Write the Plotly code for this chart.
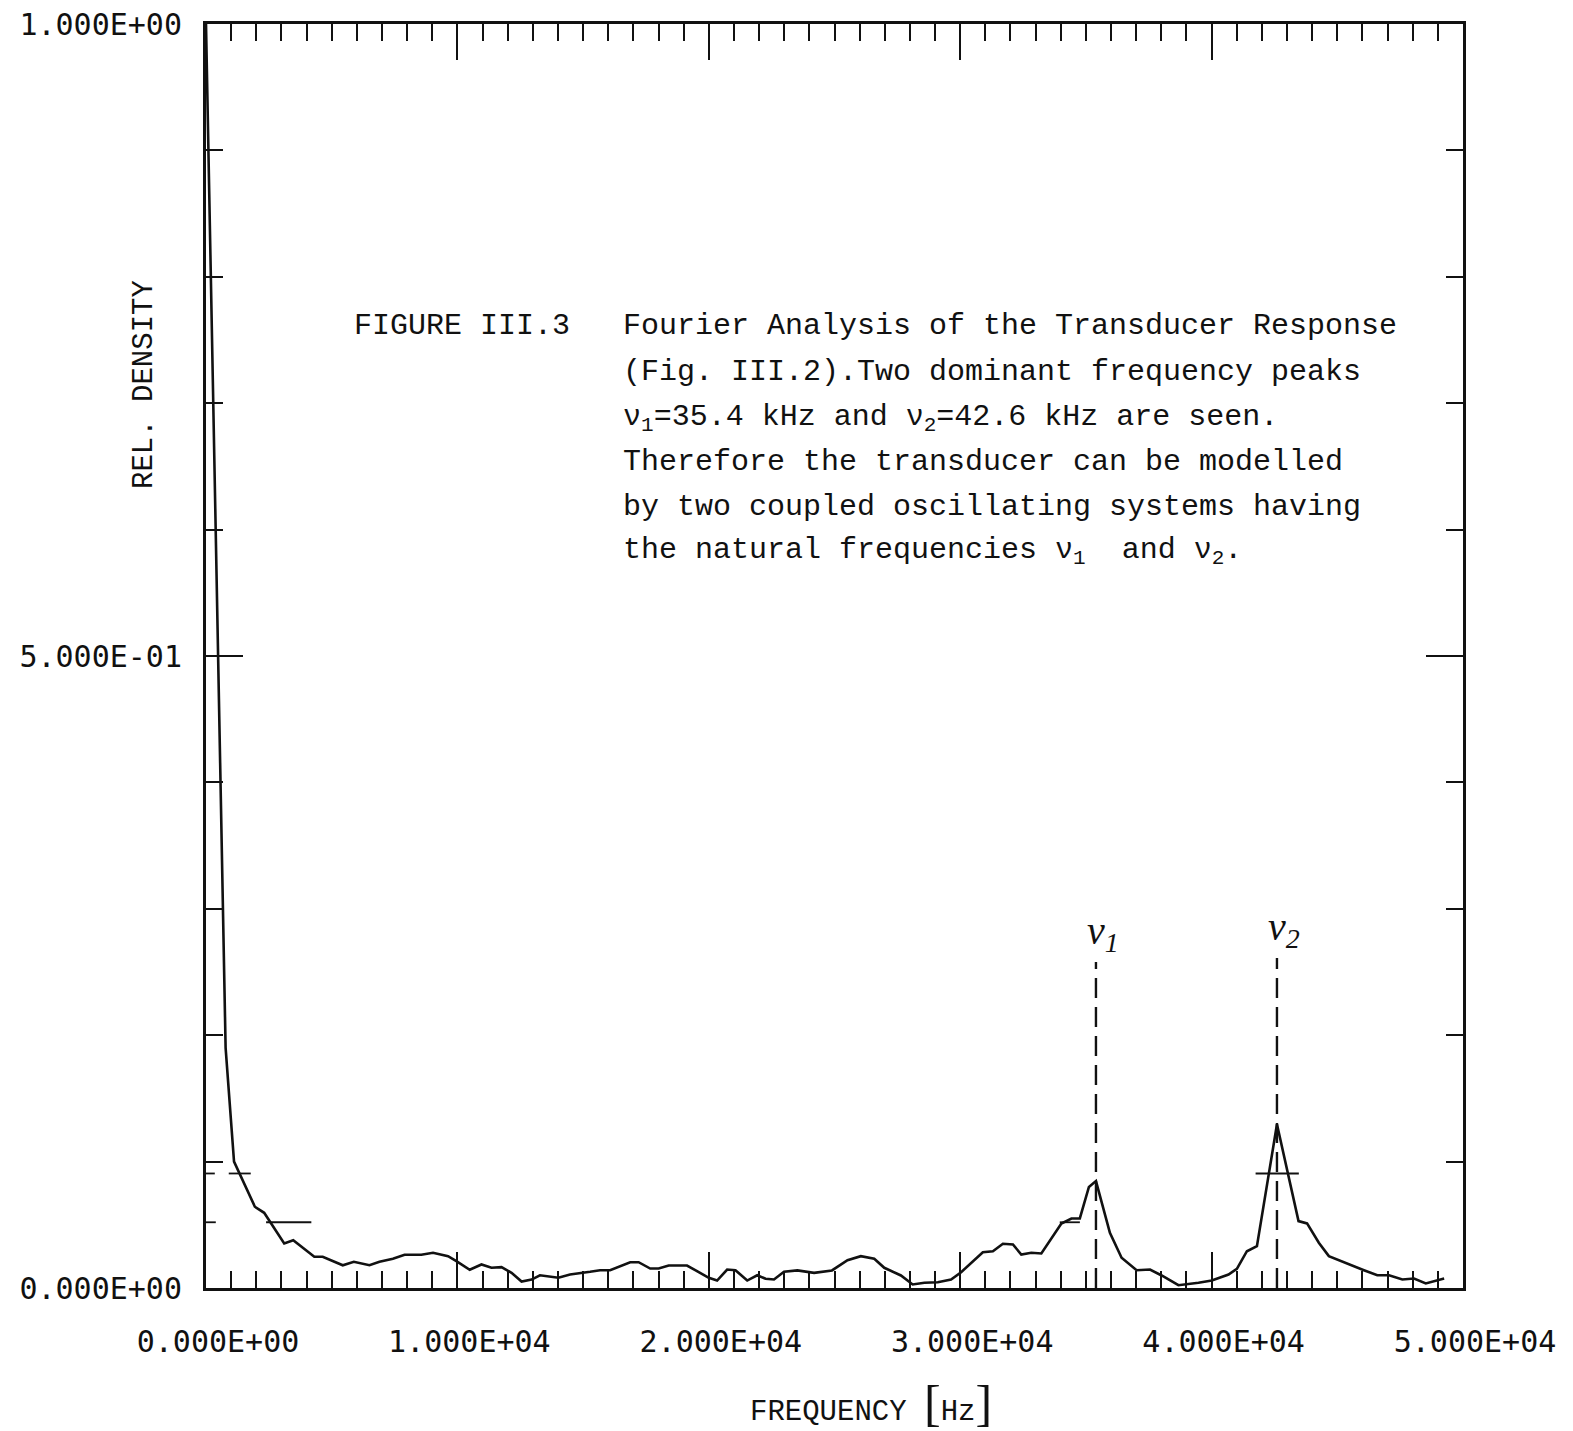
import plotly.graph_objects as go

# Relative spectral density of the transducer response
freq_hz = [0, 780, 1115, 1943, 2314, 3111, 3470, 4308, 4643, 5441, 5880, 6502,
           6901, 7435, 7898, 8564, 9031, 9629, 9960, 10491, 10957, 11356, 11755,
           12154, 12553, 12952, 13283, 13618, 14017, 14480, 14879, 15277, 15676,
           16075, 16873, 17208, 17670, 18005, 18404, 19134, 20000, 20331, 20730,
           21061, 21528, 21927, 22258, 22593, 22992, 23522, 24189, 24900, 25517,
           26047, 26581, 26980, 27643, 28109, 28576, 29107, 29637, 30036, 30901,
           31300, 31699, 32098, 32429, 32828, 33227, 34025, 34424, 34758, 35120,
           35400, 35955, 36419, 37017, 37551, 38013, 38680, 39478, 40008, 40674,
           41005, 41404, 41803, 42600, 43458, 43797, 44265, 44664, 45461, 46060,
           46590, 47058, 47588, 48053, 48520, 49250]
rel_density = [1.0, 0.19, 0.100, 0.0643, 0.0595, 0.0352, 0.0378, 0.0247, 0.0247,
               0.018, 0.0207, 0.018, 0.0207, 0.0231, 0.0263, 0.0263, 0.0279, 0.0252,
               0.0212, 0.0144, 0.0186, 0.016, 0.0165, 0.012, 0.0051, 0.0067, 0.0101,
               0.0093, 0.0081, 0.0107, 0.0115, 0.0128, 0.0141, 0.0141, 0.0204, 0.0204,
               0.0154, 0.0154, 0.0178, 0.0178, 0.0081, 0.0059, 0.0146, 0.0141, 0.0059,
               0.0101, 0.0073, 0.0067, 0.0128, 0.0139, 0.012, 0.0139, 0.022, 0.0252,
               0.0231, 0.016, 0.0099, 0.0028, 0.0041, 0.0046, 0.0067, 0.0125, 0.0283,
               0.0291, 0.035, 0.0344, 0.0265, 0.0279, 0.0273, 0.051, 0.055, 0.055,
               0.080, 0.0846, 0.0437, 0.0239, 0.0141, 0.0146, 0.0099, 0.0022, 0.0041,
               0.0059, 0.0107, 0.0152, 0.0291, 0.0331, 0.1295, 0.0529, 0.0511, 0.0358,
               0.0252, 0.0186, 0.0141, 0.0101, 0.0101, 0.0067, 0.0075, 0.0036, 0.0075]

# Natural frequencies of the two coupled oscillators
peak_names = ["ν<sub>1</sub>", "ν<sub>2</sub>"]
peak_freq_hz = [35400, 42600]
peak_marker_top = [0.258, 0.261]

# Short plotter cross-marks drawn across the curve
mark_levels = [0.0906, 0.0906, 0.0906, 0.052, 0.052, 0.052]
mark_from_hz = [0, 905, 41750, 0, 2390, 33960]
mark_to_hz = [350, 1780, 43470, 390, 4190, 34760]

x_tick_vals = [0, 10000, 20000, 30000, 40000, 50000]
x_tick_text = ["0.000E+00", "1.000E+04", "2.000E+04", "3.000E+04", "4.000E+04", "5.000E+04"]
y_tick_vals = [0, 0.5, 1.0]
y_tick_text = ["0.000E+00", "5.000E-01", "1.000E+00"]

caption_head = "FIGURE III.3"
caption_lines = [
    "Fourier Analysis of the Transducer Response",
    "(Fig. III.2).Two dominant frequency peaks",
    "ν<sub>1</sub>=35.4 kHz and ν<sub>2</sub>=42.6 kHz are seen.",
    "Therefore the transducer can be modelled",
    "by two coupled oscillating systems having",
    "the natural frequencies ν<sub>1</sub>  and ν<sub>2</sub>.",
]

W, H = 1573, 1431
L, R, T, B = 206, 110, 24, 143
plot_w = W - L - R
plot_h = H - T - B


def px_to_paper(px, py):
    return (px - L) / plot_w, (H - B - py) / plot_h


mono = "Liberation Mono"
ink = "#111"
tick_font = dict(family="DejaVu Sans Mono", size=30, color=ink)

fig = go.Figure()

fig.add_trace(go.Scatter(
    x=freq_hz, y=rel_density, mode="lines",
    line=dict(color=ink, width=2.6), showlegend=False, hoverinfo="skip",
))

for f, top in zip(peak_freq_hz, peak_marker_top):
    fig.add_trace(go.Scatter(
        x=[f, f], y=[0, top], mode="lines",
        line=dict(color=ink, width=2.4, dash="20px,9px"),
        showlegend=False, hoverinfo="skip",
    ))

for lvl, a, b in zip(mark_levels, mark_from_hz, mark_to_hz):
    fig.add_trace(go.Scatter(
        x=[a, b], y=[lvl, lvl], mode="lines",
        line=dict(color=ink, width=1.8),
        showlegend=False, hoverinfo="skip",
    ))

for name, f, top in zip(peak_names, peak_freq_hz, peak_marker_top):
    fig.add_annotation(
        x=f, y=top, xref="x", yref="y", text=f"<i>{name}</i>",
        showarrow=False, xanchor="center", yanchor="bottom", yshift=2, xshift=7,
        font=dict(family="Liberation Serif", size=40, color=ink),
    )

# caption block
hx, hy = px_to_paper(352, 326)
fig.add_annotation(x=hx, y=hy, xref="paper", yref="paper", text=caption_head,
                   showarrow=False, xanchor="left", yanchor="middle",
                   font=dict(family=mono, size=30, color=ink))
line_y = [326, 372, 418, 462, 507, 551]
for txt, py in zip(caption_lines, line_y):
    cx, cy = px_to_paper(621, py)
    fig.add_annotation(x=cx, y=cy, xref="paper", yref="paper", text=txt,
                       showarrow=False, xanchor="left", yanchor="middle",
                       font=dict(family=mono, size=30, color=ink))

# axis titles
tx, ty = px_to_paper(145, 385)
fig.add_annotation(x=tx, y=ty, xref="paper", yref="paper", text="REL. DENSITY",
                   textangle=-90, showarrow=False, xanchor="center", yanchor="middle",
                   font=dict(family=mono, size=29, color=ink))
fx, fy = px_to_paper(748, 1403)
fig.add_annotation(
    x=fx, y=fy, xref="paper", yref="paper",
    text=("FREQUENCY "
          "<span style='font-family:Liberation Serif;font-size:50px'>[</span>Hz"
          "<span style='font-family:Liberation Serif;font-size:50px'>]</span>"),
    showarrow=False, xanchor="left", yanchor="middle",
    font=dict(family=mono, size=29, color=ink),
)

axis_common = dict(
    showgrid=False, zeroline=False, showline=True, linecolor=ink, linewidth=3,
    mirror="allticks", ticks="inside", tickcolor=ink, tickwidth=2.2,
    tickfont=tick_font, automargin=False,
)

fig.update_xaxes(
    range=[0, 50000], tickmode="array", tickvals=x_tick_vals, ticktext=x_tick_text,
    ticklen=36, ticklabelstandoff=25, ticklabelshift=12,
    minor=dict(tickmode="linear", tick0=0, dtick=1000, ticks="inside", ticklen=17,
               tickwidth=2.2, tickcolor=ink, showgrid=False),
    **axis_common,
)
fig.update_yaxes(
    range=[0, 1.0], tickmode="array", tickvals=y_tick_vals, ticktext=y_tick_text,
    ticklen=37, ticklabelstandoff=15,
    minor=dict(tickmode="linear", tick0=0, dtick=0.1, ticks="inside", ticklen=17,
               tickwidth=2.2, tickcolor=ink, showgrid=False),
    **axis_common,
)

fig.update_layout(
    width=W, height=H, margin=dict(l=L, r=R, t=T, b=B, autoexpand=False),
    plot_bgcolor="white", paper_bgcolor="white", showlegend=False,
)

fig.write_html("out.html")
